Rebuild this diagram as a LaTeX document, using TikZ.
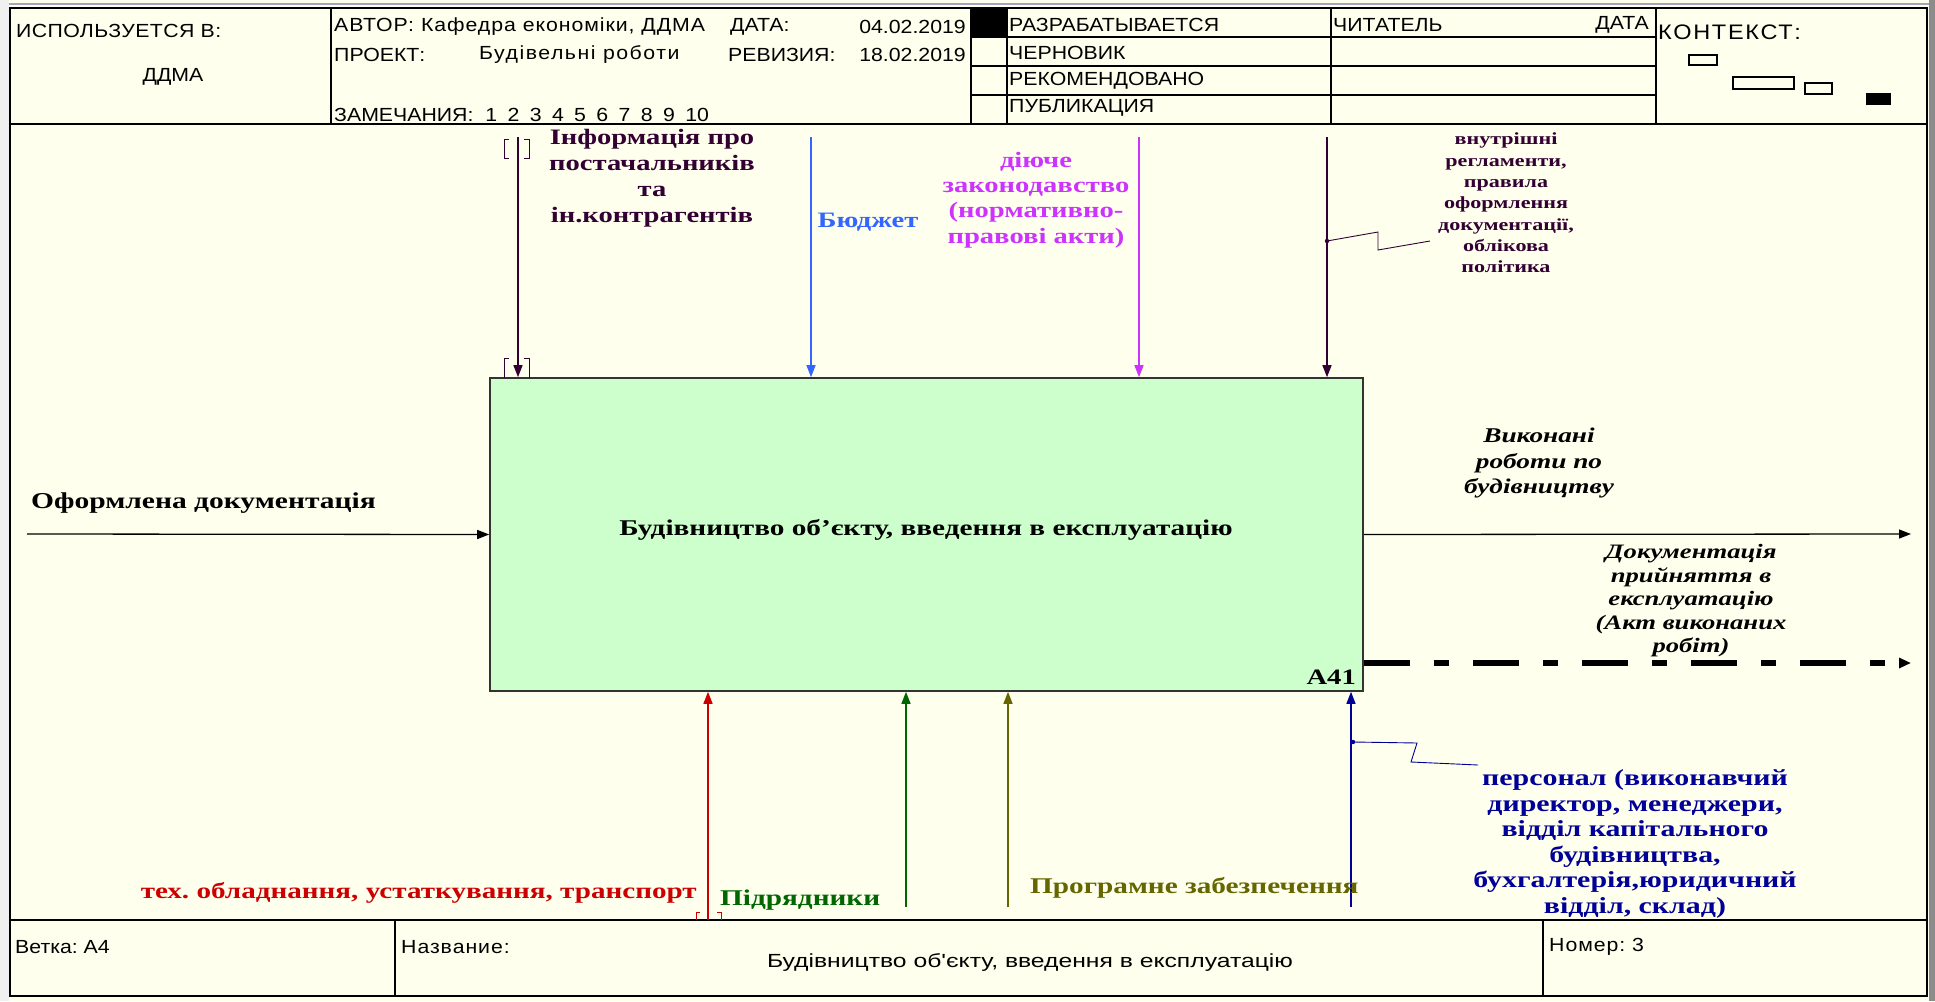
\documentclass[tikz,border=0pt]{standalone}
\usepackage{fontspec}
\setmainfont{Liberation Serif}[FakeStretch=1.3]
\setsansfont{Liberation Sans}[FakeStretch=1.12]
\newfontfamily\widesans{Liberation Sans}[FakeStretch=1.3]
\usetikzlibrary{arrows.meta}
\frenchspacing

\definecolor{paper}{RGB}{255,255,238}
\definecolor{boxgreen}{RGB}{204,255,204}
\definecolor{plum}{RGB}{51,0,51}
\definecolor{skyblue}{RGB}{51,102,255}
\definecolor{lilac}{RGB}{204,51,255}
\definecolor{redline}{RGB}{204,0,0}
\definecolor{leaf}{RGB}{0,102,0}
\definecolor{khaki}{RGB}{102,102,0}
\definecolor{navyline}{RGB}{0,0,153}

\begin{document}
\begin{tikzpicture}[x=1pt, y=-1pt,
    hdr/.style={font=\sffamily\fontsize{19}{19}\selectfont, inner sep=0pt, anchor=west},
    lbl/.style={font=\bfseries\fontsize{22}{26}\selectfont, align=center, inner sep=0pt},
    flow/.style={-{Triangle[length=12pt,width=9pt]}, line width=1.3pt},
    tunnel/.style={line width=1pt},
    grid/.style={line width=1.4pt}]

  % paper and frame
  \fill[paper] (0,0) rectangle (1935,1001);
  \fill[black!6] (0,0) rectangle (9,1001);
  \fill[black!45] (1929,0) rectangle (1935,1001);
  \draw[line width=1.5pt, blue!20!gray!60] (9,4) -- (1929,4);
  \draw[grid, line width=1.8pt] (10,8) rectangle (1927,996);

  % header form
  \draw[grid] (10,124) -- (1927,124);
  \foreach \xx in {331,971,1007,1331,1656}
    \draw[grid] (\xx,8) -- (\xx,124);
  \foreach \yy in {37,66,95}
    \draw[grid] (971,\yy) -- (1656,\yy);
  \fill (971,8) rectangle (1007,37);

  \node[hdr] (usedIn) at (16,31) {\addfontfeature{LetterSpace=2}ИСПОЛЬЗУЕТСЯ В:};
  \node[hdr, anchor=center] (ddma) at (173,77) {ДДМА};
  \node[hdr] (author) at (334,27) {\addfontfeature{LetterSpace=5}АВТОР: Кафедра економіки, ДДМА};
  \node[hdr] (dateKey) at (730,27) {ДАТА:};
  \node[hdr, anchor=east] (dateVal) at (966,27) {04.02.2019};
  \node[hdr] (project) at (334,55) {ПРОЕКТ:};
  \node[hdr] (projName) at (479,55) {\addfontfeature{LetterSpace=8}Будівельні роботи};
  \node[hdr] (revKey) at (728,55) {РЕВИЗИЯ:};
  \node[hdr, anchor=east] (revVal) at (966,55) {18.02.2019};
  \node[hdr] (notes) at (334,115) {ЗАМЕЧАНИЯ:\ \ {\spaceskip=10.4pt 1 2 3 4 5 6 7 8 9 10}};
  \node[hdr] (st1) at (1009,25) {РАЗРАБАТЫВАЕТСЯ};
  \node[hdr] (st2) at (1009,53) {ЧЕРНОВИК};
  \node[hdr] (st3) at (1009,81) {РЕКОМЕНДОВАНО};
  \node[hdr] (st4) at (1009,108) {ПУБЛИКАЦИЯ};
  \node[hdr] (reader) at (1333,25) {ЧИТАТЕЛЬ};
  \node[hdr, anchor=east] (readDate) at (1649,25) {ДАТА};
  \node[hdr, font=\sffamily\fontsize{21}{21}\selectfont] (context) at (1658,32)
    {\addfontfeature{LetterSpace=8}КОНТЕКСТ:};

  \draw[line width=1.2pt] (1689,55) rectangle (1717,65);
  \draw[line width=1.2pt] (1733,77) rectangle (1794,89);
  \draw[line width=1.2pt] (1805,83) rectangle (1832,94);
  \fill (1866,93) rectangle (1891,105);

  % footer form
  \draw[grid] (10,920) -- (1927,920);
  \draw[grid] (395,920) -- (395,996);
  \draw[grid] (1543,920) -- (1543,996);
  \node[hdr] (branch) at (15,947) {Ветка: A4};
  \node[hdr] (nameKey) at (401,947) {\addfontfeature{LetterSpace=5}Название:};
  \node[hdr, anchor=center, font=\widesans\fontsize{19}{19}\selectfont] (nameVal) at (1030,962)
    {Будівництво об'єкту, введення в експлуатацію};
  \node[hdr] (number) at (1549,947) {\addfontfeature{LetterSpace=5}Номер: 3};

  % activity box
  \node[draw=black!80, line width=1.6pt, fill=boxgreen, minimum width=873pt,
        minimum height=313pt, inner sep=0pt] (act) at (926.5,534.5) {};
  \node[lbl, font=\bfseries\fontsize{22.5}{26}\selectfont] (actName) at (926,530)
    {Будівництво об'єкту, введення в експлуатацію};
  \node[lbl, anchor=east] (actNo) at (1356,677) {A41};

  % controls
  \coordinate (infoSrc) at (518,137);
  \coordinate (budgetSrc) at (811,137);
  \coordinate (lawSrc) at (1139,137);
  \coordinate (rulesSrc) at (1327,137);
  \draw[flow, plum] (infoSrc) -- (infoSrc |- act.north);
  \draw[flow, skyblue] (budgetSrc) -- (budgetSrc |- act.north);
  \draw[flow, lilac] (lawSrc) -- (lawSrc |- act.north);
  \draw[flow, plum] (rulesSrc) -- (rulesSrc |- act.north);

  \draw[tunnel, plum] (509,139) -- (504,139) -- (504,158) -- (509,158)
                      (524,139) -- (529,139) -- (529,158) -- (524,158);
  \draw[tunnel, plum] (509,358) -- (504,358) -- (504,378)
                      (524,358) -- (529,358) -- (529,378);

  \node[lbl, plum] (infoLbl) at (652,178) {Інформація про\\постачальників\\та\\ін.контрагентів};
  \node[lbl, skyblue] (budgetLbl) at (868,222) {Бюджет};
  \node[lbl, lilac, font=\bfseries\fontsize{22}{25.3}\selectfont] (lawLbl) at (1036,200)
    {діюче\\законодавство\\(нормативно-\\правові акти)};
  \node[lbl, plum, font=\bfseries\fontsize{17}{21.3}\selectfont] (rulesLbl) at (1506,203)
    {внутрішні\\регламенти,\\правила\\оформлення\\документації,\\облікова\\політика};
  \fill[plum] (1327,241) circle (2.2);
  \draw[plum, line width=0.9pt] (1327,241) -- (1378,232) -- (1378,250) -- (1430,241);

  % input
  \coordinate (docIn) at (27,534);
  \draw[flow] (docIn) -- (act.west);
  \node[lbl, anchor=west, font=\bfseries\fontsize{22.7}{26}\selectfont] (docInLbl) at (31,503)
    {Оформлена документація};

  % outputs
  \coordinate (worksEnd) at (1911,534);
  \coordinate (docEnd) at (1911,663);
  \draw[flow] (act.east) -- (worksEnd);
  \draw[-{Triangle[length=12pt,width=10pt]}, line width=5.5pt,
        dash pattern=on 46pt off 24pt on 15pt off 24pt] (act.east |- docEnd) -- (docEnd);
  \node[lbl, font=\bfseries\itshape\fontsize{21}{25.5}\selectfont] (worksLbl) at (1539,463)
    {Виконані\\роботи по\\будівництву};
  \node[lbl, font=\bfseries\itshape\fontsize{20.5}{23.5}\selectfont] (docOutLbl) at (1691,601)
    {Документація\\прийняття в\\експлуатацію\\(Акт виконаних\\робіт)};

  % mechanisms
  \coordinate (techSrc) at (708,920);
  \coordinate (subSrc) at (906,907);
  \coordinate (softSrc) at (1008,907);
  \coordinate (staffSrc) at (1351,907);
  \draw[flow, redline] (techSrc) -- (techSrc |- act.south);
  \draw[flow, leaf] (subSrc) -- (subSrc |- act.south);
  \draw[flow, khaki] (softSrc) -- (softSrc |- act.south);
  \draw[flow, navyline] (staffSrc) -- (staffSrc |- act.south);
  \draw[tunnel, redline] (700,912) -- (696,912) -- (696,920)
                         (717,912) -- (721,912) -- (721,920);

  \node[lbl, redline, anchor=east, font=\bfseries\fontsize{22.4}{22.4}\selectfont] (techLbl) at (697,893)
    {тех. обладнання, устаткування, транспорт};
  \node[lbl, leaf, anchor=west, font=\bfseries\fontsize{22.5}{22.5}\selectfont] (subLbl) at (720,900)
    {Підрядники};
  \node[lbl, khaki, anchor=west, font=\bfseries\fontsize{22.5}{22.5}\selectfont] (softLbl) at (1030,888)
    {Програмне забезпечення};
  \node[lbl, navyline, font=\bfseries\fontsize{23}{25.6}\selectfont] (staffLbl) at (1635,844)
    {персонал (виконавчий\\директор, менеджери,\\відділ капітального\\будівництва,\\бухгалтерія,юридичний\\відділ, склад)};
  \fill[navyline] (1353,742) circle (2.2);
  \draw[navyline, line width=0.9pt] (1353,742) -- (1417,743) -- (1411,762) -- (1478,765);
\end{tikzpicture}
\end{document}
